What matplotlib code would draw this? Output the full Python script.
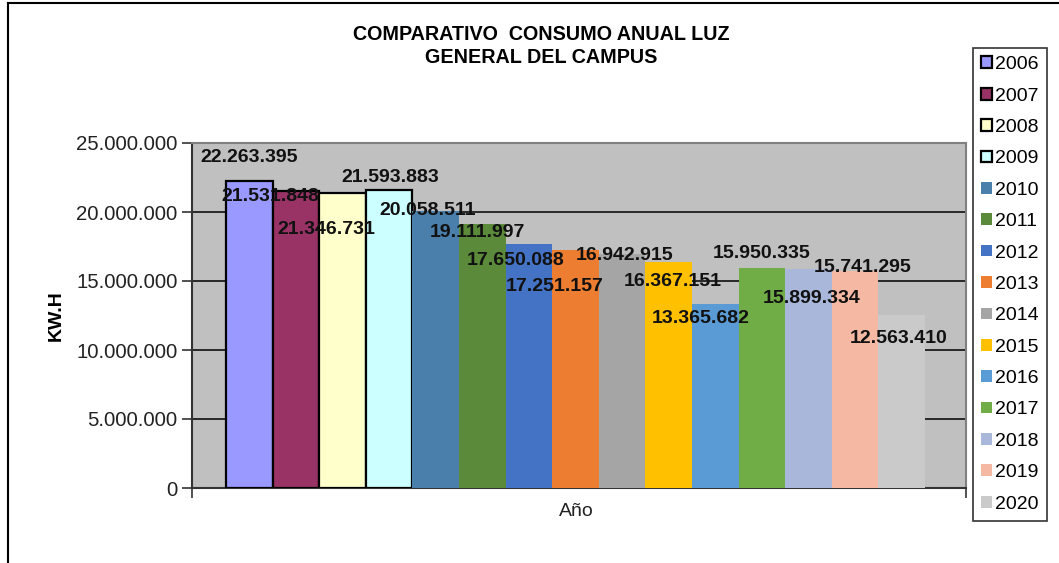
import numpy as np
import matplotlib
matplotlib.use('Agg')
import matplotlib.pyplot as plt
from matplotlib.lines import Line2D

plt.rcParams['font.family'] = ['Liberation Sans', 'DejaVu Sans']

# ============================================================
# 数据：每年的用电量（KW.H）
# ============================================================
years = ['2006', '2007', '2008', '2009', '2010', '2011', '2012', '2013',
         '2014', '2015', '2016', '2017', '2018', '2019', '2020']
consumo = [22263395, 21531848, 21346731, 21593883, 20058511, 19111997,
           17650088, 17251157, 16942915, 16367151, 13365682, 15950335,
           15899334, 15741295, 12563410]
labels = ['22.263.395', '21.531.848', '21.346.731', '21.593.883', '20.058.511',
          '19.111.997', '17.650.088', '17.251.157', '16.942.915', '16.367.151',
          '13.365.682', '15.950.335', '15.899.334', '15.741.295', '12.563.410']
yticks = [0, 5000000, 10000000, 15000000, 20000000, 25000000]
ytick_labels = ['0', '5.000.000', '10.000.000', '15.000.000', '20.000.000', '25.000.000']

colors = ['#9999FF', '#993366', '#FFFFCC', '#CCFFFF', '#4A7EAB', '#5A8A3A',
          '#4472C4', '#ED7D31', '#A5A5A5', '#FFC000', '#5B9BD5', '#70AD47',
          '#A9B7DA', '#F4B8A3', '#CACACA']
outlined = 4   # 前 4 根柱子带黑边

# 数值标签的摆放偏移（Excel 的位置有点乱，照着原图摆）
lbl_dx = [0.0, -0.55, -0.34, 0.03, -0.18, -0.11, -0.28, -0.45,
          0.06, 0.09, -0.32, 0.0, 0.06, 0.17, -0.06]   # 单位：柱宽
lbl_dy = [1.65, -0.44, -2.58, 0.87, 0.08, -0.63, -1.2, -2.68,
          -0.06, -1.37, -1.05, 1.01, -2.2, 0.27, -1.72]  # 单位：百万

W, H = 1059, 563
fig = plt.figure(figsize=(W / 100, H / 100), dpi=100)
ax = fig.add_axes([192 / W, 1 - 488 / H, (966 - 192) / W, (488 - 143) / H])
ax.set_facecolor('#C0C0C0')

x = np.arange(len(years))
for i in range(len(years)):
    ec = 'black' if i < outlined else 'none'
    lw = 1.6 if i < outlined else 0
    ax.bar(x[i], consumo[i], width=1.0, color=colors[i], edgecolor=ec,
           linewidth=lw, label=years[i], zorder=3)

for i in range(len(years)):
    ax.text(x[i] + lbl_dx[i], consumo[i] + lbl_dy[i] * 1e6, labels[i],
            ha='center', va='center', fontsize=14, fontweight='bold',
            color='#111111', zorder=5)

xmin, xmax = -1.23, 15.38
ax.set_xlim(xmin, xmax)
ax.set_ylim(0, 25000000)
ax.set_yticks(yticks)
ax.set_yticklabels(ytick_labels, fontsize=14.7, color='#222222')
ax.set_xticks([xmin, xmax])
ax.set_xticklabels(['', ''])
ax.tick_params(axis='both', direction='out', length=7, width=1.2, color='#333333')
ax.yaxis.grid(True, color='black', lw=1.1, zorder=1)
ax.set_axisbelow(True)

for s in ['top', 'right']:
    ax.spines[s].set_color('#808080')
    ax.spines[s].set_linewidth(1.5)
ax.spines['left'].set_color('#333333')
ax.spines['left'].set_linewidth(1.5)
ax.spines['bottom'].set_color('#333333')
ax.spines['bottom'].set_linewidth(1.5)

ax.set_ylabel('KW.H', fontsize=14, fontweight='bold')
ax.yaxis.set_label_coords(-0.165, 0.5)
fig.text(576 / W, 1 - 512 / H, 'Año', ha='center', va='center', fontsize=14, color='#222222')

fig.text(541 / W, 1 - 35 / H, 'COMPARATIVO  CONSUMO ANUAL LUZ', ha='center', va='center',
         fontsize=14.2, fontweight='bold')
fig.text(541 / W, 1 - 58 / H, 'GENERAL DEL CAMPUS', ha='center', va='center',
         fontsize=14.2, fontweight='bold')

leg = ax.legend(loc='upper left', bbox_to_anchor=(973 / W, 1 - 48 / H),
                bbox_transform=fig.transFigure, borderaxespad=0,
                fontsize=14, fancybox=False, edgecolor='#333333', framealpha=1,
                handlelength=0.55, handleheight=0.55, handletextpad=0.15,
                labelspacing=0.74, borderpad=0.42)
leg.get_frame().set_linewidth(1.2)

# 外框（只看得到上边和左边）
fig.add_artist(Line2D([8 / W, 1], [1 - 3 / H, 1 - 3 / H], color='black', lw=1.5,
                      transform=fig.transFigure))
fig.add_artist(Line2D([8 / W, 8 / W], [0, 1 - 3 / H], color='black', lw=1.5,
                      transform=fig.transFigure))

fig.savefig('out.png', dpi=100)
